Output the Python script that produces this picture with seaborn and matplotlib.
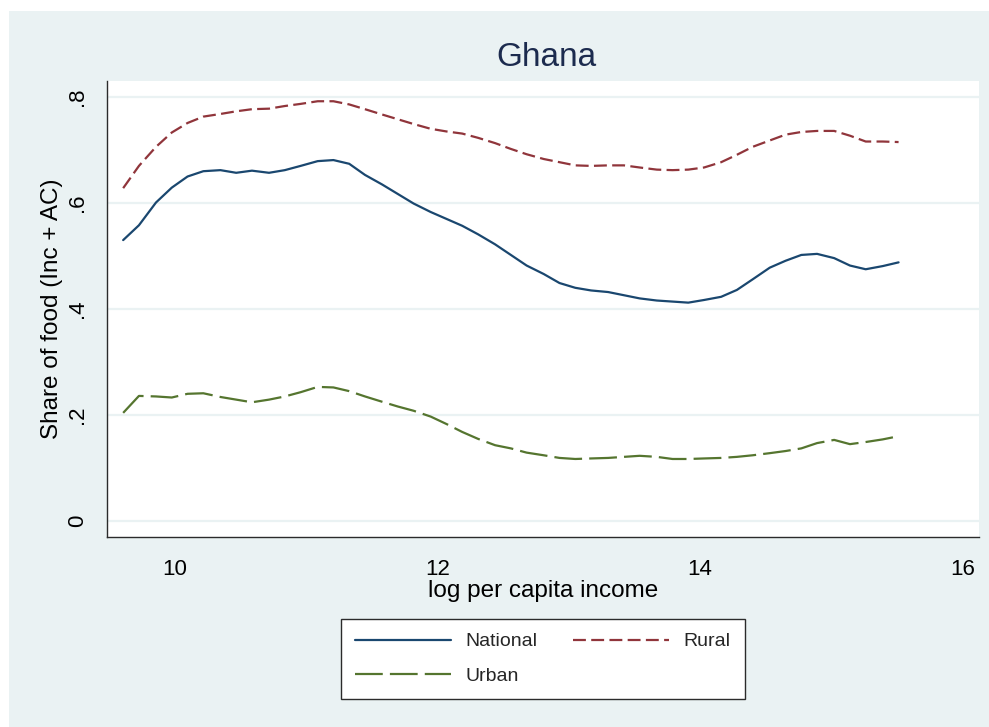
import matplotlib
matplotlib.use("Agg")
import matplotlib.pyplot as plt
from matplotlib.patches import Rectangle
import seaborn as sns
import pandas as pd

# Smoothed food share by log per-capita income, Ghana
log_income = [9.61, 9.73, 9.86, 9.98, 10.10, 10.22, 10.35, 10.47, 10.59, 10.72,
              10.84, 10.96, 11.09, 11.21, 11.33, 11.45, 11.58, 11.70, 11.82, 11.95,
              12.07, 12.19, 12.31, 12.44, 12.56, 12.68, 12.81, 12.93, 13.05, 13.17,
              13.30, 13.42, 13.54, 13.67, 13.79, 13.91, 14.03, 14.16, 14.28, 14.40,
              14.53, 14.65, 14.77, 14.89, 15.02, 15.14, 15.26, 15.39, 15.51]

national = [0.530, 0.558, 0.601, 0.629, 0.650, 0.660, 0.662, 0.657, 0.661, 0.657,
            0.662, 0.670, 0.679, 0.681, 0.674, 0.653, 0.635, 0.617, 0.599, 0.583,
            0.570, 0.557, 0.541, 0.522, 0.502, 0.482, 0.466, 0.449, 0.440, 0.435,
            0.432, 0.426, 0.420, 0.416, 0.414, 0.412, 0.417, 0.423, 0.436, 0.456,
            0.478, 0.491, 0.502, 0.504, 0.496, 0.482, 0.475, 0.481, 0.488]

rural = [0.628, 0.670, 0.706, 0.733, 0.751, 0.763, 0.768, 0.773, 0.777, 0.778,
         0.783, 0.787, 0.792, 0.792, 0.786, 0.777, 0.767, 0.758, 0.749, 0.740,
         0.735, 0.731, 0.723, 0.713, 0.702, 0.692, 0.683, 0.677, 0.671, 0.670,
         0.671, 0.671, 0.667, 0.663, 0.662, 0.663, 0.667, 0.677, 0.691, 0.706,
         0.718, 0.729, 0.734, 0.736, 0.736, 0.727, 0.716, 0.716, 0.715]

urban = [0.204, 0.236, 0.235, 0.233, 0.240, 0.241, 0.234, 0.229, 0.224, 0.229,
         0.235, 0.243, 0.253, 0.252, 0.245, 0.235, 0.225, 0.216, 0.208, 0.197,
         0.183, 0.168, 0.155, 0.143, 0.137, 0.129, 0.124, 0.119, 0.117, 0.118,
         0.119, 0.121, 0.123, 0.121, 0.117, 0.117, 0.118, 0.119, 0.121, 0.124,
         0.128, 0.132, 0.137, 0.147, 0.153, 0.145, 0.149, 0.154, 0.160]

series_names = ["National", "Rural", "Urban"]
x_ticks = [10, 12, 14, 16]
y_ticks = [0, 0.2, 0.4, 0.6, 0.8]
y_tick_labels = ["0", ".2", ".4", ".6", ".8"]

sns.set_style("white")
plt.rcParams["font.family"] = ["Liberation Sans", "DejaVu Sans"]

W, H = 989, 727
fig = plt.figure(figsize=(W / 100, H / 100), dpi=100)
fig.patch.set_facecolor("white")

panel = "#eaf2f3"
fig.add_artist(Rectangle((9 / W, 0), (W - 9) / W, (H - 11) / H,
                         transform=fig.transFigure, facecolor=panel,
                         edgecolor="none", zorder=0))

ax = fig.add_axes([107 / W, (H - 537) / H, 872 / W, 456 / H])
ax.set_facecolor("white")

df = pd.DataFrame({"x": log_income, "National": national,
                   "Rural": rural, "Urban": urban})

styles = {
    "National": dict(color="#1a476f", linestyle="-"),
    "Rural": dict(color="#90353b", linestyle=(0, (5.8, 2.4))),
    "Urban": dict(color="#55752f", linestyle=(0, (12.5, 3.2))),
}
lines = {}
for name in series_names:
    sns.lineplot(data=df, x="x", y=name, ax=ax, linewidth=1.6,
                 label=name, **styles[name])
    lines[name] = ax.lines[-1]
if ax.get_legend() is not None:
    ax.get_legend().remove()

ax.set_xlim(9.487, 16.122)
ax.set_ylim(-0.0302, 0.8302)
ax.set_xticks(x_ticks)
ax.set_xticklabels([str(t) for t in x_ticks])
ax.set_yticks(y_ticks)
ax.set_yticklabels(y_tick_labels)

ax.yaxis.grid(True, color=panel, linewidth=1.6)
ax.xaxis.grid(False)
ax.set_axisbelow(True)

for side in ("top", "right"):
    ax.spines[side].set_visible(False)
for side in ("left", "bottom"):
    ax.spines[side].set_color("#2b2b2b")
    ax.spines[side].set_linewidth(1.0)

ax.tick_params(axis="both", direction="out", length=7.2, width=1.0,
               color="#2b2b2b", labelsize=16, labelcolor="black", pad=7.5)
ax.tick_params(axis="x", pad=8.5)
ax.tick_params(axis="y", labelrotation=90, pad=6.5)
for lab in ax.get_yticklabels():
    lab.set_va("center")

ax.set_xlabel("log per capita income", fontsize=17.5, color="black")
ax.xaxis.set_label_coords(0.5, (537 - 591) / 456)
ax.xaxis.label.set_va("center")
ax.set_ylabel("Share of food (Inc + AC)", fontsize=17.5, color="black")
ax.yaxis.set_label_coords((52 - 107) / 872, 0.5)
ax.yaxis.label.set_va("center")

fig.text(546 / W, 1 - 57 / H, "Ghana", ha="center", va="center",
         fontsize=24, color="#1c2b4e")

order = ["National", "Urban", "Rural"]
leg = fig.legend([lines[n] for n in order], order, ncol=2, loc="center",
                 bbox_to_anchor=(543 / W, 1 - 659 / H), fontsize=14,
                 handlelength=4.9, handletextpad=0.77, columnspacing=1.85,
                 borderpad=0.72, labelspacing=0.88, frameon=True,
                 fancybox=False, framealpha=1, facecolor="white",
                 edgecolor="#2b2b2b")
leg.get_frame().set_linewidth(1.0)

fig.savefig("out.png", dpi=100)
